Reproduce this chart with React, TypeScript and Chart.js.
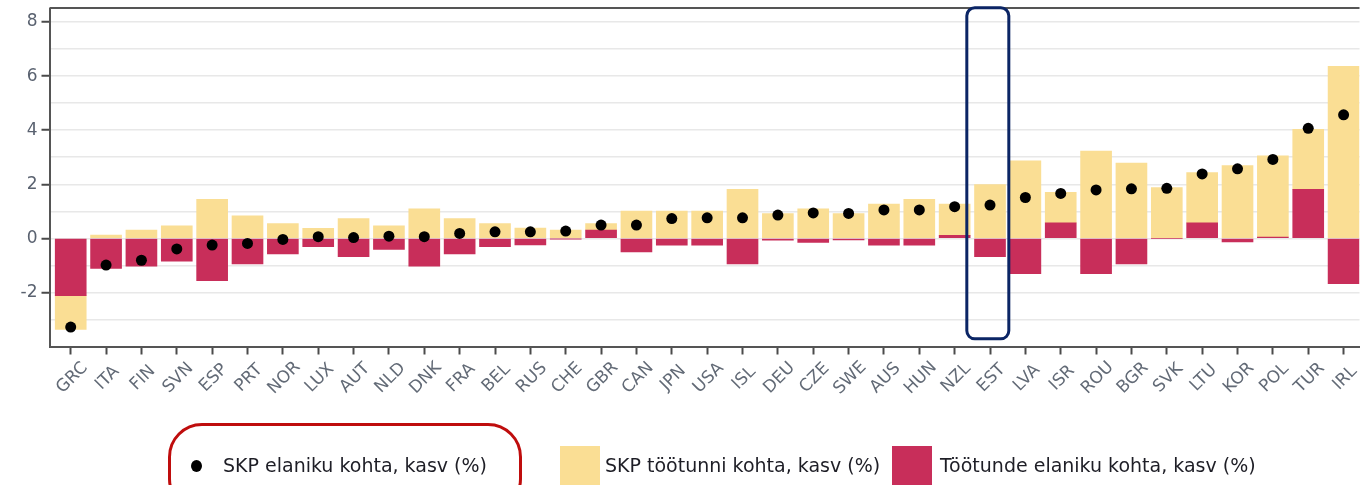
import React, { useEffect, useRef } from 'react';
import { Chart, registerables } from 'chart.js';

Chart.register(...registerables);

const categories = ['GRC', 'ITA', 'FIN', 'SVN', 'ESP', 'PRT', 'NOR', 'LUX', 'AUT', 'NLD', 'DNK', 'FRA', 'BEL', 'RUS', 'CHE', 'GBR', 'CAN', 'JPN', 'USA', 'ISL', 'DEU', 'CZE', 'SWE', 'AUS', 'HUN', 'NZL', 'EST', 'LVA', 'ISR', 'ROU', 'BGR', 'SVK', 'LTU', 'KOR', 'POL', 'TUR', 'IRL'];

// SKP elaniku kohta, kasv (%)
const gdpPerCapita = [-3.28, -0.99, -0.81, -0.39, -0.25, -0.19, -0.04, 0.06, 0.03, 0.08, 0.06, 0.18, 0.24, 0.24, 0.27, 0.49, 0.49, 0.73, 0.76, 0.76, 0.86, 0.94, 0.92, 1.05, 1.05, 1.17, 1.23, 1.51, 1.66, 1.79, 1.83, 1.85, 2.38, 2.57, 2.92, 4.07, 4.57];

// SKP töötunni kohta, kasv (%)
const productivityPerHour = [-1.25, 0.12, 0.31, 0.46, 1.44, 0.83, 0.55, 0.37, 0.73, 0.46, 1.09, 0.73, 0.55, 0.38, 0.31, 0.24, 1.01, 1.01, 1.01, 1.81, 0.92, 1.09, 0.92, 1.27, 1.44, 1.16, 1.99, 2.87, 1.13, 3.23, 2.78, 1.88, 1.86, 2.69, 3.0, 2.22, 6.36];

// Töötunde elaniku kohta, kasv (%)
const hoursPerCapita = [-2.12, -1.11, -1.03, -0.84, -1.57, -0.95, -0.58, -0.31, -0.68, -0.41, -1.03, -0.58, -0.31, -0.24, -0.02, 0.31, -0.5, -0.25, -0.25, -0.95, -0.07, -0.15, -0.06, -0.25, -0.25, 0.11, -0.68, -1.31, 0.57, -1.31, -0.95, 0.0, 0.57, -0.13, 0.05, 1.81, -1.68];

const yTickValues = [-4, -3, -2, -1, 0, 1, 2, 3, 4, 5, 6, 7, 8];
const yLabelValues = [-2, 0, 2, 4, 6, 8];
const highlightCategory = 'EST';

const legendLabels = ['SKP elaniku kohta, kasv (%)', 'SKP töötunni kohta, kasv (%)', 'Töötunde elaniku kohta, kasv (%)'];

const YELLOW = '#FADE94';
const RED = '#C82E5A';
const FRAME = '#555555';

export default function App() {
  const ref = useRef<HTMLCanvasElement>(null);

  useEffect(() => {
    const canvas = ref.current;
    if (!canvas) return;

    const overlay = {
      id: 'overlay',
      afterDraw(chart: any) {
        const { ctx, chartArea, scales } = chart;
        const xs = scales.x;
        ctx.save();
        // top frame line
        ctx.strokeStyle = FRAME;
        ctx.lineWidth = 2;
        ctx.beginPath();
        ctx.moveTo(chartArea.left, 8);
        ctx.lineTo(chartArea.right, 8);
        ctx.stroke();
        // rotated category labels centred under ticks
        ctx.font = '17px "DejaVu Sans"';
        ctx.fillStyle = '#626a76';
        ctx.textAlign = 'center';
        ctx.textBaseline = 'middle';
        categories.forEach((c, i) => {
          const x = xs.getPixelForValue(i);
          ctx.save();
          ctx.translate(x + 1.5, chartArea.bottom + 31.5);
          ctx.rotate(-Math.PI / 4);
          ctx.fillText(c, 0, 0);
          ctx.restore();
        });
        // highlight box
        const ex = xs.getPixelForValue(categories.indexOf(highlightCategory));
        ctx.strokeStyle = '#0b2565';
        ctx.lineWidth = 3;
        ctx.beginPath();
        (ctx as any).roundRect(ex - 23.2, 7.8, 42, 331, 8);
        ctx.stroke();
        ctx.restore();
      },
    };

    const chart = new Chart(canvas, {
      type: 'bar',
      data: {
        labels: categories,
        datasets: [
          {
            type: 'line',
            label: legendLabels[0],
            data: gdpPerCapita,
            showLine: false,
            pointRadius: 5.5,
            pointBackgroundColor: '#000',
            pointBorderColor: '#000',
            pointBorderWidth: 0,
            stack: 'dots',
          } as any,
          {
            type: 'bar',
            label: legendLabels[2],
            data: hoursPerCapita,
            backgroundColor: RED,
            borderWidth: 0,
            barThickness: 31,
            stack: 'bars',
          },
          {
            type: 'bar',
            label: legendLabels[1],
            data: productivityPerHour,
            backgroundColor: YELLOW,
            borderWidth: 0,
            barThickness: 31,
            stack: 'bars',
          },
        ],
      },
      options: {
        responsive: false,
        animation: false,
        layout: { padding: { top: 8.5, left: 0, right: 0, bottom: 0 } },
        plugins: { legend: { display: false }, tooltip: { enabled: false } },
        scales: {
          x: {
            stacked: true,
            offset: true,
            grid: {
              display: true,
              drawOnChartArea: false,
              drawTicks: true,
              tickLength: 8,
              tickWidth: 2,
              tickColor: '#4a4a4a',
              offset: false,
            },
            border: { display: true, color: FRAME, width: 2 },
            ticks: { display: false, autoSkip: false },
            afterBuildTicks: (s: any) => {
              s._startValue = -0.6;
              s._valueRange = 37.05;
            },
            afterFit: (s: any) => {
              s.height = 138.5;
              s.paddingLeft = 0;
              s.paddingRight = 0;
            },
          },
          y: {
            stacked: true,
            min: -4,
            max: 8.5,
            afterBuildTicks: (s: any) => {
              s.ticks = yTickValues.map((v) => ({ value: v }));
            },
            ticks: {
              autoSkip: false,
              padding: 4,
              color: '#5a6270',
              font: { family: 'DejaVu Sans', size: 17 },
              callback: (v: any) => (yLabelValues.includes(Number(v)) ? String(v) : ''),
            },
            grid: {
              color: '#e8e8e8',
              lineWidth: 1.5,
              tickLength: 8,
              tickWidth: 2,
              tickColor: (c: any) => (c.tick && yLabelValues.includes(c.tick.value) ? '#4a4a4a' : 'rgba(0,0,0,0)'),
            },
            border: { display: true, color: FRAME, width: 2 },
            afterFit: (s: any) => {
              s.width = 49.5;
              s.paddingTop = 0;
              s.paddingBottom = 0;
            },
          },
        },
      },
      plugins: [overlay],
    });
    return () => chart.destroy();
  }, []);

  const textStyle: React.CSSProperties = {
    position: 'absolute',
    top: 456,
    fontFamily: '"DejaVu Sans", sans-serif',
    fontSize: 19,
    lineHeight: '19px',
    color: '#1e1e26',
    whiteSpace: 'nowrap',
  };

  return (
    <div style={{ position: 'fixed', left: 0, top: 0, width: 1365, height: 485, overflow: 'hidden', background: '#fff' }}>
      <canvas ref={ref} width={1365} height={485} style={{ display: 'block', width: 1365, height: 485 }} />
      <div style={{ position: 'absolute', left: 190.5, top: 460, width: 11, height: 12, borderRadius: '50%', background: '#000' }} />
      <div style={{ ...textStyle, left: 223 }}>{legendLabels[0]}</div>
      <div style={{ position: 'absolute', left: 560, top: 446, width: 40, height: 40, background: YELLOW }} />
      <div style={{ ...textStyle, left: 605 }}>{legendLabels[1]}</div>
      <div style={{ position: 'absolute', left: 892, top: 446, width: 40, height: 40, background: RED }} />
      <div style={{ ...textStyle, left: 940 }}>{legendLabels[2]}</div>
      <div style={{ position: 'absolute', left: 168, top: 423, width: 354, height: 90, border: '3px solid #bf0d0d', borderRadius: 34, boxSizing: 'border-box' }} />
    </div>
  );
}
